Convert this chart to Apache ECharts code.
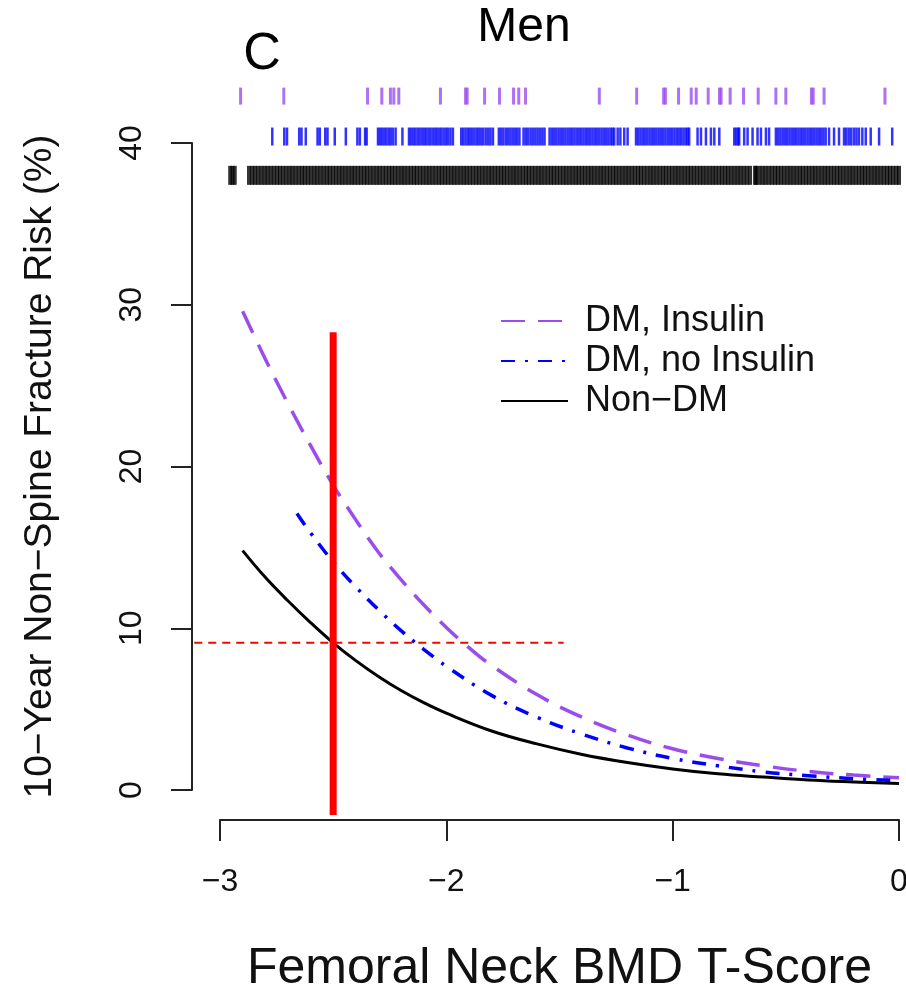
<!DOCTYPE html>
<html>
<head>
<meta charset="utf-8">
<script src="https://cdn.jsdelivr.net/npm/echarts@6/dist/echarts.min.js"></script>
<style>
html,body{margin:0;padding:0;background:#fff;}
#chart{width:906px;height:993px;}
</style>
</head>
<body>
<div id="chart"></div>
<script>
// ---- data ----
const xTicks = [-3, -2, -1, 0];
const yTicks = [0, 10, 20, 30, 40];

const tNonDM = [-2.9,-2.8,-2.7,-2.6,-2.5,-2.4,-2.3,-2.2,-2.1,-2.0,-1.8,-1.6,-1.4,-1.2,-1.0,-0.8,-0.6,-0.4,-0.2,0.0];
const riskNonDM = [14.8,13.15,11.7,10.35,9.1,8.0,7.02,6.15,5.4,4.75,3.65,2.85,2.2,1.7,1.3,1.0,0.8,0.62,0.5,0.4];

const tInsulin = [-2.9,-2.8,-2.7,-2.6,-2.5,-2.4,-2.3,-2.2,-2.1,-2.0,-1.9,-1.8,-1.6,-1.4,-1.2,-1.0,-0.8,-0.6,-0.4,-0.2,0.0];
const riskInsulin = [29.6,26.65,23.9,21.3,18.85,16.7,14.7,13.0,11.45,10.05,8.8,7.7,5.9,4.5,3.4,2.55,1.95,1.5,1.15,0.92,0.75];

const tNoInsulin = [-2.66,-2.6,-2.5,-2.4,-2.3,-2.2,-2.1,-2.0,-1.8,-1.6,-1.4,-1.2,-1.0,-0.8,-0.6,-0.4,-0.2,0.0];
const riskNoInsulin = [17.1,15.9,14.1,12.55,11.15,9.85,8.7,7.65,5.85,4.5,3.45,2.6,1.95,1.5,1.12,0.88,0.7,0.58];

// reference lines (T-score cut-off and matching risk)
const cutLineT = [-2.5, -2.5];
const cutLineRisk = [28.3, -1.55];
const riskLineT = [-3.11, -1.48];
const riskLineRisk = [9.1, 9.1];

// rug marks (individual T-scores)
const rugInsulin = [-2.909,-2.718,-2.348,-2.285,-2.247,-2.232,-2.210,-2.026,-1.915,-1.908,-1.831,-1.765,-1.703,-1.680,-1.650,
 -1.324,-1.159,-1.040,-1.032,-0.974,-0.918,-0.896,-0.843,-0.793,-0.786,-0.746,-0.687,-0.622,-0.544,-0.500,-0.387,-0.379,-0.331,-0.062];

const rugNoInsulin = [-2.769,-2.716,-2.704,-2.650,-2.640,-2.621,-2.569,-2.559,-2.535,-2.525,-2.493,-2.444,-2.393,-2.382,-2.359,-2.352,
 -2.302,-2.293,-2.284,-2.274,-2.265,-2.255,-2.246,-2.236,-2.224,-2.194,
 -2.165,-2.156,-2.146,-2.137,-2.127,-2.118,-2.108,-2.098,-2.089,-2.079,-2.070,-2.060,-2.050,-2.041,-2.031,-2.022,-2.012,-2.002,-1.993,-1.982,-1.971,
 -1.934,-1.925,-1.915,-1.905,-1.896,-1.886,-1.876,-1.866,-1.857,-1.847,-1.837,-1.826,-1.815,-1.805,-1.794,
 -1.768,-1.758,-1.748,-1.737,-1.727,-1.717,-1.707,-1.697,-1.687,-1.677,
 -1.659,-1.649,-1.639,-1.628,-1.618,-1.607,-1.597,-1.587,-1.576,-1.566,
 -1.544,-1.534,-1.524,-1.514,-1.504,-1.494,-1.484,-1.474,-1.464,-1.454,-1.444,-1.434,-1.424,-1.414,-1.404,-1.394,-1.384,-1.374,-1.364,-1.354,-1.344,-1.334,-1.324,-1.314,-1.304,-1.294,-1.284,-1.274,-1.266,-1.258,
 -1.243,-1.231,-1.214,-1.199,
 -1.162,-1.152,-1.142,-1.132,-1.122,-1.112,-1.102,-1.092,-1.082,-1.072,-1.062,-1.052,-1.042,-1.032,-1.022,-1.012,-1.002,-0.992,-0.982,-0.972,-0.962,-0.952,-0.942,-0.934,-0.927,
 -0.890,-0.875,-0.853,-0.831,-0.816,-0.794,
 -0.728,-0.719,-0.711,-0.706,-0.684,-0.669,-0.647,-0.625,-0.610,-0.588,-0.574,
 -0.544,-0.534,-0.524,-0.514,-0.504,-0.494,-0.484,-0.474,-0.464,-0.454,-0.444,-0.434,-0.424,-0.414,-0.404,-0.394,-0.384,-0.374,-0.364,-0.354,-0.344,-0.334,-0.324,
 -0.309,-0.287,-0.265,-0.243,-0.233,-0.222,-0.211,-0.199,-0.188,-0.177,-0.162,-0.147,-0.125,-0.088,-0.030];

const rugNonDM = [-2.955,-2.945,-2.935,
 -2.872,-2.858,-2.845,-2.831,-2.817,-2.803,-2.790,-2.776,-2.762,-2.748,-2.735,-2.721,-2.707,-2.693,-2.680,-2.666,-2.652,-2.638,-2.625,-2.611,
 -2.597,-2.583,-2.570,-2.556,-2.542,-2.528,-2.515,-2.501,-2.487,-2.473,-2.460,-2.446,-2.432,-2.418,-2.405,-2.391,-2.377,-2.363,-2.350,-2.336,
 -2.322,-2.308,-2.295,-2.281,-2.267,-2.253,-2.240,-2.226,-2.212,-2.198,-2.185,-2.171,-2.157,-2.143,-2.130,-2.116,-2.102,-2.088,-2.075,-2.061,
 -2.047,-2.033,-2.020,-2.006,-1.992,-1.978,-1.965,-1.951,-1.937,-1.923,-1.910,-1.896,-1.882,-1.868,-1.855,-1.841,-1.827,-1.813,-1.800,-1.786,
 -1.772,-1.758,-1.745,-1.731,-1.717,-1.703,-1.690,-1.676,-1.662,-1.648,-1.635,-1.621,-1.607,-1.593,-1.580,-1.566,-1.552,-1.538,-1.525,-1.511,
 -1.497,-1.483,-1.470,-1.456,-1.442,-1.428,-1.415,-1.401,-1.387,-1.373,-1.360,-1.346,-1.332,-1.318,-1.305,-1.291,-1.277,-1.263,-1.250,-1.236,
 -1.222,-1.208,-1.195,-1.181,-1.167,-1.153,-1.140,-1.126,-1.112,-1.098,-1.085,-1.071,-1.057,-1.043,-1.030,-1.016,-1.002,-0.988,-0.975,-0.961,
 -0.947,-0.933,-0.920,-0.906,-0.892,-0.878,-0.865,-0.851,-0.837,-0.823,-0.810,-0.796,-0.782,-0.768,-0.755,-0.741,-0.727,-0.713,-0.700,-0.686,
 -0.672,-0.658,-0.636,-0.631,-0.617,-0.603,-0.590,-0.576,-0.562,-0.548,-0.535,-0.521,-0.507,-0.493,-0.480,-0.466,-0.452,-0.438,-0.425,-0.411,
 -0.397,-0.383,-0.370,-0.356,-0.342,-0.328,-0.315,-0.301,-0.287,-0.273,-0.260,-0.246,-0.232,-0.218,-0.205,-0.191,-0.177,-0.163,-0.150,-0.136,
 -0.122,-0.108,-0.095,-0.081,-0.067,-0.053,-0.040,-0.026,-0.012,0.000];

// ---- chart ----
const FONT = '"Liberation Sans", Arial, Helvetica, sans-serif';
const PURPLE = '#9B4DEB';
const BLUE = '#0000FF';
const RUG_LEVEL = { insulin: 42.9, noInsulin: 40.4, nonDM: 38.0 };
// plot region in R extends 4% past the data range (-3.12 .. 0.12)
const X_USR_MIN = -3.12;

const pairs = (xs, ys) => xs.map((x, i) => [x, ys[i]]);
const rug = (xs, level) => xs.map(x => [x, level]);

const chart = echarts.init(document.getElementById('chart'));
chart.setOption({
  animation: false,
  backgroundColor: '#ffffff',
  textStyle: { fontFamily: FONT },
  grid: [
    { left: 220, right: 7, top: 143, bottom: 203, containLabel: false, outerBoundsMode: 'none' },
    { left: 192, right: 7, top: 143, bottom: 203, containLabel: false, outerBoundsMode: 'none' }
  ],
  graphic: [
    { type: 'text', x: 524, y: 28, style: { text: 'Men', fontSize: 48, fontFamily: FONT, fill: '#000', align: 'center', verticalAlign: 'middle' } },
    { type: 'text', x: 262, y: 55, style: { text: 'C', fontSize: 52, fontFamily: FONT, fill: '#000', align: 'center', verticalAlign: 'middle' } }
  ],
  legend: {
    orient: 'vertical',
    left: 495, top: 298,
    itemWidth: 67, itemHeight: 14, itemGap: 4,
    itemStyle: { opacity: 0 },
    textStyle: { fontSize: 36, fontFamily: FONT, color: '#111', padding: [0, 0, 0, 12] },
    data: ['DM, Insulin', 'DM, no Insulin', 'Non\u2212DM']
  },
  xAxis: [{
    type: 'value', min: xTicks[0], max: xTicks[xTicks.length - 1], interval: 1,
    offset: 30,
    name: 'Femoral Neck BMD T-Score', nameLocation: 'middle', nameGap: 124,
    nameTextStyle: { fontSize: 50, fontFamily: FONT, color: '#111' },
    axisLine: { show: true, onZero: false, lineStyle: { color: '#222', width: 2 } },
    axisTick: { show: true, length: 21, lineStyle: { color: '#222', width: 2 } },
    axisLabel: { margin: 46, fontSize: 32, fontFamily: FONT, color: '#111',
      formatter: v => (v < 0 ? '\u2212' + Math.abs(v) : String(v)) },
    splitLine: { show: false }
  }, {
    gridIndex: 1, type: 'value', min: X_USR_MIN, max: xTicks[xTicks.length - 1], show: false,
    axisLine: { onZero: false }, splitLine: { show: false }
  }],
  yAxis: [{
    type: 'value', min: yTicks[0], max: yTicks[yTicks.length - 1], interval: 10,
    offset: 28,
    name: '10\u2212Year Non\u2212Spine Fracture Risk (%)', nameLocation: 'middle', nameGap: 132,
    nameTextStyle: { fontSize: 39, fontFamily: FONT, color: '#111' },
    axisLine: { show: true, onZero: false, lineStyle: { color: '#222', width: 2 } },
    axisTick: { show: true, length: 21, lineStyle: { color: '#222', width: 2 } },
    axisLabel: { margin: 44, rotate: 90, fontSize: 32, fontFamily: FONT, color: '#111' },
    splitLine: { show: false }
  }, {
    gridIndex: 1, type: 'value', min: yTicks[0], max: yTicks[yTicks.length - 1], show: false,
    axisLine: { onZero: false }, splitLine: { show: false }
  }],
  series: [
    { type: 'scatter', name: 'rugInsulin', clip: false, symbol: 'rect', symbolSize: [3, 17],
      itemStyle: { color: PURPLE }, data: rug(rugInsulin, RUG_LEVEL.insulin), silent: true },
    { type: 'scatter', name: 'rugNoInsulin', clip: false, symbol: 'rect', symbolSize: [2.5, 18],
      itemStyle: { color: BLUE }, data: rug(rugNoInsulin, RUG_LEVEL.noInsulin), silent: true },
    { type: 'scatter', name: 'rugNonDM', clip: false, symbol: 'rect', symbolSize: [4, 19],
      itemStyle: { color: '#000' }, data: rug(rugNonDM, RUG_LEVEL.nonDM), silent: true },
    { type: 'line', name: 'DM, Insulin', clip: false, symbol: 'none', smooth: 0.4,
      color: PURPLE, lineStyle: { color: PURPLE, width: 3.5, type: [24, 13] },
      data: pairs(tInsulin, riskInsulin) },
    { type: 'line', name: 'DM, no Insulin', clip: false, symbol: 'none', smooth: 0.4,
      color: BLUE, lineStyle: { color: BLUE, width: 3.5, type: [14, 10, 3, 10] },
      data: pairs(tNoInsulin, riskNoInsulin) },
    { type: 'line', name: 'Non\u2212DM', clip: false, symbol: 'none', smooth: 0.4,
      color: '#000', lineStyle: { color: '#000', width: 3 },
      data: pairs(tNonDM, riskNonDM) },
    { type: 'line', name: 'cutoff', clip: false, symbol: 'none', silent: true, z: 5,
      lineStyle: { color: '#FF0000', width: 7 }, data: pairs(cutLineT, cutLineRisk) },
    { type: 'line', name: 'riskline', xAxisIndex: 1, yAxisIndex: 1, clip: false, symbol: 'none', silent: true, z: 5,
      lineStyle: { color: '#FF0000', width: 2, type: [8, 6] }, data: pairs(riskLineT, riskLineRisk) }
  ]
});
</script>
</body>
</html>
